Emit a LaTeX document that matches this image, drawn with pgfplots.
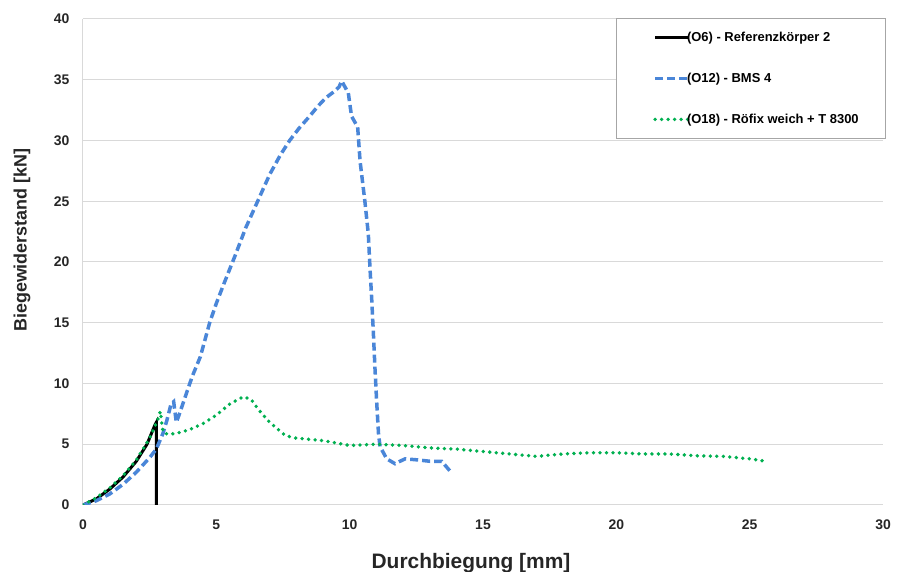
\documentclass[border=0pt]{standalone}
\usepackage{pgfplots}
\pgfplotsset{compat=1.18}
\usepackage{fontspec}
\setmainfont{Liberation Sans}
\definecolor{myblue}{RGB}{74,134,216}
\definecolor{mygreen}{RGB}{0,176,80}
\definecolor{gridgray}{RGB}{217,217,217}
\begin{document}
\begin{tikzpicture}[x=1bp,y=1bp]
\begin{axis}[
  scale only axis, width=800bp, height=486bp,
  xmin=0, xmax=30, ymin=0, ymax=40,
  xtick={0,5,...,30}, ytick={0,5,...,40},
  axis x line*=bottom, axis y line*=left,
  axis line style={draw=gridgray, line width=1bp, -},
  major tick length=0pt,
  ymajorgrids, grid style={draw=gridgray, line width=1bp},
  tick label style={font=\fontsize{14}{15}\selectfont\bfseries, text=black!85},
  /pgf/number format/assume math mode=true,
  xticklabel style={yshift=-11bp},
  yticklabel style={xshift=-10bp},
  xlabel={Durchbiegung [mm]}, ylabel={Biegewiderstand [kN]},
  xlabel style={font=\fontsize{21}{22}\selectfont\bfseries, text=black!85, at={(axis cs:14.55,0)}, yshift=-58bp, anchor=center},
  ylabel style={font=\fontsize{18}{20}\selectfont\bfseries, text=black!85, at={(axis cs:0,21.8)}, yshift=61bp, anchor=center},
  legend cell align=left,
  legend style={at={(axis cs:30.12,40.1)}, anchor=north east, draw=gray!70, line width=1bp,
    font=\fontsize{13}{14}\selectfont\bfseries, inner xsep=26bp, inner ysep=12bp,
    row sep=26bp, column sep=-4bp, nodes={inner xsep=1bp}},
  legend image code/.code={\path (0bp,0bp); \draw[#1] (11bp,0bp) -- (44bp,0bp);},
]
\addplot[black, line width=3bp] coordinates {
(0,0) (0.5,0.5) (1,1.3) (1.5,2.3) (2,3.6) (2.4,5.0) (2.7,6.6) (2.75,6.8) (2.75,0)
};
\addlegendentry{(O6) - Referenzkörper 2}
\addplot[myblue, line width=3.5bp, dash pattern=on 8bp off 4bp] coordinates {
(0,0) (0.5,0.35) (1,0.9) (1.5,1.7) (2,2.7) (2.5,3.9) (2.75,4.6) (3.0,5.9) (3.15,7.0) (3.3,8.3) (3.4,8.5) (3.5,6.8) (3.6,7.4) (3.88,9.2) (4.1,10.6) (4.4,12.2) (4.75,15) (5.0,16.6) (5.3,18.3) (5.7,20.5) (6.1,22.8) (6.55,25) (7.0,27.2) (7.4,28.8) (7.75,30) (8.1,31) (8.5,32) (8.8,32.8) (9.1,33.5) (9.4,34) (9.6,34.4) (9.7,34.9) (9.8,34.5) (9.95,33.9) (10.07,32.0) (10.3,31.1) (10.39,28.3) (10.57,25.0) (10.7,22.3) (10.76,19.6) (10.83,16.8) (10.89,14.1) (10.95,11.2) (11.01,8.6) (11.08,5.9) (11.14,4.8) (11.39,3.8) (11.7,3.4) (12.08,3.8) (12.6,3.7) (13.0,3.6) (13.45,3.6) (13.8,2.7)
};
\addlegendentry{(O12) - BMS 4}
\addplot[mygreen, line width=3.8bp, line cap=round, dash pattern=on 0bp off 6.5bp] coordinates {
(0,0) (0.5,0.6) (1,1.4) (1.5,2.4) (2,3.7) (2.5,5.5) (2.8,7.0) (2.9,7.7) (3.0,6.0) (3.2,5.8) (3.5,5.9) (4,6.2) (4.5,6.7) (5,7.4) (5.5,8.3) (6.0,8.9) (6.3,8.7) (6.6,7.8) (7.0,6.8) (7.6,5.7) (8,5.5) (9,5.3) (10,4.9) (11,5.0) (12,4.9) (13,4.7) (14,4.6) (15,4.4) (16,4.2) (17,4.0) (18,4.2) (19,4.3) (20,4.3) (21,4.2) (22,4.2) (23,4.05) (24,4.0) (25,3.8) (25.6,3.6)
};
\addlegendentry{(O18) - Röfix weich + T 8300}
\coordinate (ll) at (rel axis cs:0,0);
\coordinate (ur) at (rel axis cs:1,1);
\end{axis}
\pgfresetboundingbox
\path ([shift={(-83bp,-67bp)}]ll) rectangle ([shift={(15bp,19bp)}]ur);
\end{tikzpicture}
\end{document}
